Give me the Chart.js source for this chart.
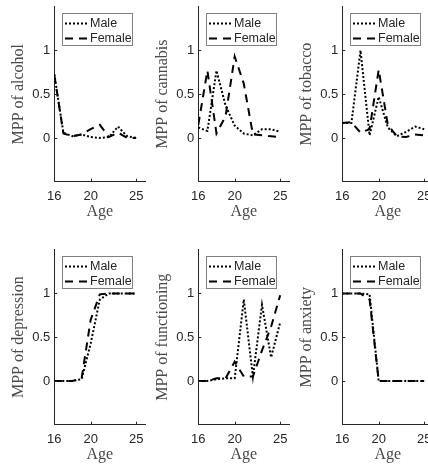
<!DOCTYPE html>
<html lang="en">
<head>
<meta charset="UTF-8">
<title>MPP by age</title>
<script src="https://cdn.jsdelivr.net/npm/chart.js"></script>
<style>
  body { margin: 0; background: #fff; overflow: hidden; }
  #wrap { position: relative; width: 428px; height: 465px; overflow: hidden; }
  canvas { position: absolute; }
</style>
</head>
<body>
<div id="wrap"></div>
<script>
// ---- data ----
const ages = [16, 17, 18, 19, 20, 21, 22, 23, 24, 25];
const xTicks = [16, 20, 25];
const yTicks = [0, 0.5, 1];
const seriesNames = ['Male', 'Female'];
const panelLabels = ['MPP of alcohol', 'MPP of cannabis', 'MPP of tobacco',
                     'MPP of depression', 'MPP of functioning', 'MPP of anxiety'];

const alcoholMale      = [0.73, 0.06, 0.02, 0.04, 0.01, 0.00, 0.01, 0.13, 0.02, 0.00];
const alcoholFemale    = [0.72, 0.05, 0.02, 0.04, 0.10, 0.15, 0.01, 0.06, 0.00, 0.00];
const cannabisMale     = [0.12, 0.08, 0.77, 0.37, 0.14, 0.05, 0.03, 0.10, 0.10, 0.07];
const cannabisFemale   = [0.15, 0.77, 0.05, 0.25, 0.93, 0.62, 0.04, 0.03, 0.02, 0.01];
const tobaccoMale      = [0.17, 0.17, 1.00, 0.03, 0.47, 0.12, 0.02, 0.07, 0.13, 0.10];
const tobaccoFemale    = [0.17, 0.18, 0.06, 0.10, 0.78, 0.15, 0.02, 0.01, 0.04, 0.03];
const depressionMale   = [0.00, 0.00, 0.00, 0.02, 0.43, 0.93, 1.00, 1.00, 1.00, 1.00];
const depressionFemale = [0.00, 0.00, 0.00, 0.03, 0.70, 0.99, 1.00, 1.00, 1.00, 1.00];
const functioningMale  = [0.00, 0.00, 0.02, 0.03, 0.03, 0.93, 0.05, 0.87, 0.27, 0.67];
const functioningFemale= [0.00, 0.00, 0.03, 0.03, 0.22, 0.05, 0.05, 0.35, 0.62, 0.98];
const anxietyMale      = [1.00, 1.00, 1.00, 0.99, 0.00, 0.00, 0.00, 0.00, 0.00, 0.00];
const anxietyFemale    = [1.00, 1.00, 1.00, 0.93, 0.00, 0.00, 0.00, 0.00, 0.00, 0.00];

const panelData = [
  [alcoholMale, alcoholFemale],
  [cannabisMale, cannabisFemale],
  [tobaccoMale, tobaccoFemale],
  [depressionMale, depressionFemale],
  [functioningMale, functioningFemale],
  [anxietyMale, anxietyFemale]
];

// ---- layout (MATLAB subplot look) ----
const COL_STEP = 144;
const ROW_TOP = [0, 243];
const ROW_H = [243, 222];
const CANVAS_W = 148;
const PLOT_LEFT = 54.3, PLOT_TOP = 6.7, PLOT_BOTTOM = 181.7, PLOT_RIGHT = 145.3;
const AXIS_COLOR = '#262626';
const SANS = "'Liberation Sans', Arial, sans-serif";
const SERIF = "'Liberation Serif', 'Times New Roman', serif";

const lineStyles = [
  { borderDash: [2, 2], borderWidth: 2 },   // Male  ':'
  { borderDash: [8, 6], borderWidth: 2 }    // Female '--'
];

// inward ticks + boxed legend, like MATLAB
const matlabBits = {
  id: 'matlabBits',
  afterDatasetsDraw(chart) {
    const { ctx, chartArea: a, scales: { x, y } } = chart;
    ctx.save();
    ctx.strokeStyle = AXIS_COLOR;
    ctx.lineWidth = 1;
    ctx.setLineDash([]);
    ctx.beginPath();
    xTicks.forEach(v => {
      const p = Math.round(x.getPixelForValue(v)) + 0.5;
      ctx.moveTo(p, a.bottom); ctx.lineTo(p, a.bottom - 3);
    });
    yTicks.forEach(v => {
      const p = Math.round(y.getPixelForValue(v)) + 0.5;
      ctx.moveTo(a.left, p); ctx.lineTo(a.left + 3, p);
    });
    ctx.stroke();

    // legend box
    const bx = Math.round(a.left + 7.4) + 0.5, by = Math.round(a.top + 6.6) + 0.5;
    const bw = 70, bh = 32;
    ctx.fillStyle = '#fff';
    ctx.fillRect(bx, by, bw, bh);
    ctx.strokeStyle = '#808080';
    ctx.strokeRect(bx, by, bw, bh);
    ctx.font = '12.5px ' + SANS;
    ctx.textBaseline = 'middle';
    ctx.textAlign = 'left';
    chart.data.datasets.forEach((ds, i) => {
      const yy = by + 10 + 15 * i;
      ctx.strokeStyle = ds.borderColor;
      ctx.lineWidth = ds.borderWidth;
      ctx.setLineDash(ds.borderDash);
      ctx.beginPath();
      ctx.moveTo(bx + 2.5, yy); ctx.lineTo(bx + 25, yy);
      ctx.stroke();
      ctx.setLineDash([]);
      ctx.fillStyle = AXIS_COLOR;
      ctx.fillText(ds.label, bx + 27.5, yy);
    });
    ctx.restore();
  }
};

const wrap = document.getElementById('wrap');

panelLabels.forEach((label, k) => {
  const col = k % 3, row = Math.floor(k / 3);
  const H = ROW_H[row];
  const cv = document.createElement('canvas');
  cv.width = CANVAS_W; cv.height = H;
  cv.style.left = (col * COL_STEP) + 'px';
  cv.style.top = ROW_TOP[row] + 'px';
  cv.style.width = CANVAS_W + 'px';
  cv.style.height = H + 'px';
  wrap.appendChild(cv);

  const datasets = panelData[k].map((vals, i) => ({
    label: seriesNames[i],
    data: ages.map((a, j) => ({ x: a, y: vals[j] })),
    borderColor: '#000',
    borderWidth: lineStyles[i].borderWidth,
    borderDash: lineStyles[i].borderDash,
    borderCapStyle: 'butt',
    pointRadius: 0,
    tension: 0,
    fill: false
  }));

  new Chart(cv.getContext('2d'), {
    type: 'line',
    data: { datasets },
    plugins: [matlabBits],
    options: {
      responsive: false,
      animation: false,
      layout: { padding: { left: 0, top: PLOT_TOP, right: CANVAS_W - PLOT_RIGHT, bottom: 0 } },
      plugins: { legend: { display: false }, tooltip: { enabled: false } },
      scales: {
        x: {
          type: 'linear',
          min: 16, max: 26,
          grid: { display: false, drawTicks: false },
          border: { display: true, color: AXIS_COLOR, width: 1 },
          afterBuildTicks: s => { s.ticks = xTicks.map(v => ({ value: v })); },
          afterFit: s => { s.height = H - PLOT_BOTTOM; s.paddingLeft = 0; s.paddingRight = 0; },
          ticks: { color: AXIS_COLOR, padding: 6.5, maxRotation: 0, autoSkip: false,
                   callback: v => String(v),
                   font: { family: SANS, size: 13 } },
          title: { display: true, text: 'Age', color: '#4a4a4a',
                   font: { family: SERIF, size: 16, lineHeight: 1.2 },
                   padding: { top: 0, bottom: H - (PLOT_BOTTOM + 30) - 9.6 } }
        },
        y: {
          min: -0.5, max: 1.5,
          grid: { display: false, drawTicks: false },
          border: { display: true, color: AXIS_COLOR, width: 1 },
          afterBuildTicks: s => { s.ticks = yTicks.map(v => ({ value: v })); },
          afterFit: s => { s.width = PLOT_LEFT; s.paddingTop = 0; s.paddingBottom = 0; },
          ticks: { color: AXIS_COLOR, padding: 4, autoSkip: false,
                   callback: v => String(v),
                   font: { family: SANS, size: 13 } },
          title: { display: true, text: label, color: '#4a4a4a',
                   font: { family: SERIF, size: 16, lineHeight: 1.2 },
                   padding: { top: 8.7, bottom: 0 } }
        }
      }
    }
  });
});
</script>
</body>
</html>
